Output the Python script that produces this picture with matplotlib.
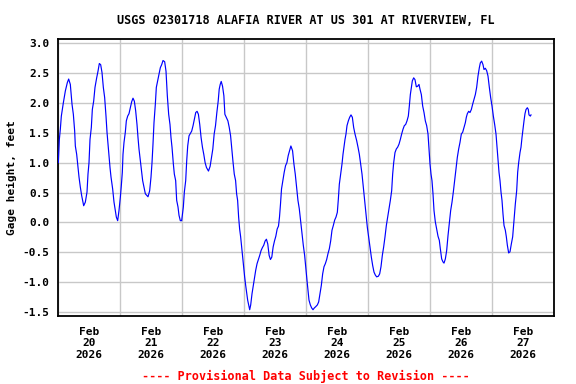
import pandas as pd
import matplotlib
matplotlib.use('Agg')
import matplotlib.pyplot as plt
import matplotlib.dates as mdates

# hours since 2026-02-20 00:00 and gage height (feet)
hours = [0.0, 0.13, 0.52, 0.90, 1.29, 2.06, 2.84, 3.61, 4.13, 4.77, 5.42, 5.94, 6.45, 6.71, 7.23, 7.61,
         8.13, 8.65, 9.16, 9.94, 10.58, 11.23, 11.61, 12.0, 12.39, 12.90, 13.29, 13.81, 14.32, 14.97,
         15.48, 16.0, 16.52, 17.03, 17.55, 18.06, 18.58, 18.97, 19.35, 19.74, 20.13, 20.52, 21.16,
         21.68, 22.19, 22.58, 23.10, 23.61, 24.13, 24.52, 24.90, 25.16, 25.55, 26.06, 26.45, 26.97,
         27.48, 28.0, 28.52, 29.03, 29.55, 30.06, 30.58, 30.97, 31.35, 31.87, 32.26, 32.77, 33.29,
         33.81, 34.84, 35.48, 36.0, 36.39, 36.77, 37.16, 37.68, 38.06, 38.58, 39.10, 39.61, 40.13,
         40.65, 41.29, 41.81, 42.32, 42.84, 43.35, 43.74, 44.13, 44.65, 45.03, 45.55, 45.94, 46.45,
         46.84, 47.35, 47.87,
         48.52, 48.91, 49.43, 49.82, 50.21, 50.72, 51.24, 51.76, 52.28, 52.80, 53.32, 53.84, 54.35,
         54.87, 55.39, 55.91, 56.43, 56.95, 57.47, 58.25, 58.89, 59.41, 59.93, 60.45, 60.97, 61.49,
         62.01, 62.40, 62.79, 63.18, 63.69, 64.21, 64.60, 65.12, 65.77, 66.29, 66.81, 67.33, 67.71,
         68.23, 68.75, 69.14, 69.53, 69.92, 70.31, 70.70, 71.09, 71.48, 71.86, 72.25, 72.64, 73.03,
         73.42, 73.81, 74.20, 74.59, 75.11, 75.63, 76.01, 76.53, 77.05, 77.57, 78.09, 78.61, 79.13,
         79.65, 80.17, 80.68, 81.20, 81.72, 82.24, 82.76, 83.28, 83.80, 84.32, 84.84, 85.35, 85.74,
         86.13, 86.52, 87.04, 87.56, 88.08, 88.60, 89.12, 89.63, 90.15, 90.80, 91.32, 91.84, 92.36,
         92.88, 93.40, 93.91, 94.43, 94.95, 95.47,
         96.0, 96.39, 96.77, 97.16, 97.68, 98.19, 98.71, 99.23, 99.74, 100.39, 100.90, 101.42, 101.94,
         102.45, 102.97, 103.48, 104.0, 104.52, 105.03, 105.55, 106.06, 106.58, 107.10, 107.61, 108.13,
         108.52, 108.90, 109.42, 109.94, 110.32, 110.71, 111.10, 111.48, 111.87, 112.39, 112.90, 113.42,
         113.94, 114.45, 114.97, 115.61, 116.13, 116.65, 117.16, 117.68, 118.19, 118.71, 119.23, 119.74,
         120.26, 120.77, 121.29, 121.81, 122.32, 122.84, 123.35, 124.0, 124.52, 125.03, 125.55, 126.06,
         126.58, 127.10, 127.61, 128.13, 128.65, 129.16, 129.55, 129.94, 130.45, 130.97, 131.48, 132.0,
         132.52, 133.03, 133.55, 134.06, 134.58, 135.10, 135.61, 136.0, 136.39, 136.77, 137.16, 137.68,
         138.19, 138.71, 139.23, 139.74, 140.13, 140.65, 141.16, 141.68, 142.19, 142.71, 143.23,
         144.0, 144.39, 144.77, 145.16, 145.55, 146.06, 146.58, 147.10, 147.61, 148.0, 148.52, 149.03,
         149.42, 149.94, 150.45, 150.97, 151.48, 152.0, 152.52, 153.03, 153.55, 154.06, 154.58, 155.10,
         155.61, 156.13, 156.65, 157.16, 157.68, 158.06, 158.45, 158.97, 159.48, 160.0, 160.52, 161.03,
         161.55, 162.06, 162.58, 163.10, 163.48, 164.0, 164.52, 164.90, 165.42, 165.94, 166.45, 166.97,
         167.48, 168.0, 168.52, 169.03, 169.55, 169.94, 170.32, 170.71, 171.10, 171.48, 171.87, 172.26,
         172.65, 173.16, 173.55, 173.94, 174.45, 174.97, 175.48, 176.0, 176.52, 177.03, 177.55, 177.94,
         178.32, 178.84, 179.23, 179.61, 180.0, 180.39, 180.77, 181.16, 181.68, 182.06, 182.32, 182.84,
         183.10]
gage = [1.00, 1.00, 1.39, 1.56, 1.78, 2.00, 2.20, 2.34, 2.40, 2.31, 1.98, 1.81, 1.53, 1.28, 1.14, 0.98,
        0.76, 0.59, 0.45, 0.28, 0.34, 0.51, 0.81, 1.00, 1.39, 1.59, 1.89, 2.03, 2.26, 2.42,
        2.53, 2.66, 2.64, 2.51, 2.26, 2.09, 1.78, 1.51, 1.31, 1.12, 0.92, 0.76, 0.56,
        0.34, 0.20, 0.09, 0.03, 0.20, 0.42, 0.62, 0.84, 1.14, 1.34, 1.51, 1.70, 1.78,
        1.82, 1.92, 2.02, 2.08, 2.03, 1.87, 1.64, 1.42, 1.23, 1.03, 0.87, 0.70, 0.59,
        0.48, 0.43, 0.53, 0.76, 1.00, 1.31, 1.67, 1.98, 2.26, 2.37, 2.48, 2.59, 2.64,
        2.71, 2.69, 2.53, 2.12, 1.81, 1.64, 1.42, 1.26, 0.98, 0.81, 0.70, 0.37, 0.26,
        0.12, 0.03, 0.03,
        0.26, 0.51, 0.70, 1.03, 1.28, 1.45, 1.49, 1.53, 1.62, 1.73, 1.84, 1.86, 1.81,
        1.64, 1.42, 1.26, 1.14, 1.00, 0.92, 0.86, 0.94, 1.09, 1.23, 1.48, 1.62, 1.84,
        2.03, 2.23, 2.31, 2.36, 2.28, 2.12, 1.81, 1.76, 1.70, 1.59, 1.45, 1.20, 1.03,
        0.81, 0.70, 0.48, 0.37, 0.09, -0.11, -0.24, -0.41, -0.58, -0.74, -0.91, -1.05, -1.17,
        -1.30, -1.38, -1.46, -1.38, -1.19, -1.05, -0.94, -0.80, -0.69, -0.62, -0.55, -0.47, -0.42,
        -0.38, -0.31, -0.28, -0.36, -0.55, -0.62, -0.58, -0.41, -0.31, -0.23, -0.11, -0.06, 0.09,
        0.31, 0.56, 0.70, 0.84, 0.95, 1.00, 1.12, 1.20, 1.28, 1.20, 0.98, 0.81, 0.59,
        0.37, 0.23, 0.03, -0.19, -0.38, -0.55,
        -0.80, -0.97, -1.13, -1.30, -1.38, -1.43, -1.46, -1.43, -1.41, -1.38, -1.33, -1.19, -1.05,
        -0.86, -0.74, -0.69, -0.62, -0.52, -0.44, -0.31, -0.13, -0.05, 0.04, 0.09, 0.17,
        0.39, 0.64, 0.81, 0.98, 1.14, 1.26, 1.39, 1.48, 1.62, 1.70, 1.76, 1.80,
        1.76, 1.59, 1.48, 1.37, 1.26, 1.14, 0.98, 0.81, 0.59, 0.37, 0.14, -0.08,
        -0.24, -0.41, -0.58, -0.72, -0.83, -0.88, -0.91, -0.90, -0.86, -0.74, -0.55, -0.41,
        -0.24, -0.05, 0.09, 0.23, 0.37, 0.53, 0.81, 1.00, 1.17, 1.23, 1.26, 1.31,
        1.39, 1.48, 1.56, 1.62, 1.64, 1.70, 1.78, 1.95, 2.14, 2.26, 2.37, 2.42,
        2.39, 2.27, 2.28, 2.31, 2.23, 2.14, 1.95, 1.84, 1.70, 1.62, 1.48,
        0.98, 0.81, 0.70, 0.48, 0.20, 0.01, -0.11, -0.23, -0.30, -0.44, -0.61, -0.66,
        -0.68, -0.61, -0.47, -0.22, -0.02, 0.20, 0.34, 0.51, 0.70, 0.90, 1.09, 1.23,
        1.34, 1.48, 1.51, 1.59, 1.67, 1.76, 1.82, 1.86, 1.84, 1.89, 1.98, 2.06,
        2.14, 2.26, 2.45, 2.59, 2.67, 2.70, 2.64, 2.56, 2.58, 2.54, 2.45, 2.26,
        2.09, 1.95, 1.78, 1.64, 1.48, 1.26, 1.03, 0.84, 0.70, 0.51, 0.37, 0.14,
        -0.05, -0.13, -0.24, -0.38, -0.51, -0.49, -0.36, -0.24, 0.03, 0.31, 0.53, 0.84,
        1.00, 1.17, 1.26, 1.42, 1.56, 1.70, 1.82, 1.89, 1.92, 1.89, 1.80, 1.78,
        1.80]

start = pd.Timestamp('2026-02-20')
end = pd.Timestamp('2026-02-28')
times = start + pd.to_timedelta(hours, unit='h')

title = 'USGS 02301718 ALAFIA RIVER AT US 301 AT RIVERVIEW, FL'
ylabel = 'Gage height, feet'
footer = '---- Provisional Data Subject to Revision ----'
yticks = [-1.5, -1.0, -0.5, 0.0, 0.5, 1.0, 1.5, 2.0, 2.5, 3.0]

plt.rcParams['font.family'] = ['DejaVu Sans Mono']
plt.rcParams['font.weight'] = 'bold'

fig = plt.figure(figsize=(5.76, 3.84), dpi=100)
ax = fig.add_axes([58 / 576, 1 - 316 / 384, 496 / 576, 277 / 384])

ax.plot(times, gage, color='#0000ff', linewidth=0.85, zorder=3)

ax.set_xlim(start, end)
ax.set_ylim(-1.565, 3.07)
ax.set_yticks(yticks)
ax.set_yticklabels(['%.1f' % v for v in yticks])

ax.xaxis.set_major_locator(mdates.DayLocator())
ax.xaxis.set_major_formatter(plt.NullFormatter())
ax.xaxis.set_minor_locator(mdates.HourLocator(byhour=12))
ax.xaxis.set_minor_formatter(mdates.DateFormatter('%b\n%d\n%Y'))

ax.grid(True, which='major', color='#c8c8c8', linewidth=1.0)
ax.set_axisbelow(True)
ax.tick_params(axis='both', which='both', length=0, labelsize=8)
ax.tick_params(axis='y', pad=6)
ax.tick_params(axis='x', which='minor', pad=8)
for lab in ax.get_xticklabels(minor=True):
    lab.set_fontweight('bold')
    lab.set_linespacing(1.15)
for lab in ax.get_yticklabels():
    lab.set_fontweight('bold')

for s in ax.spines.values():
    s.set_linewidth(1.3)
    s.set_color('black')

ax.set_ylabel(ylabel, fontsize=8, fontweight='bold', labelpad=4)
fig.text(306 / 576, 1 - 20 / 384, title, ha='center', va='center', fontsize=8.5, fontweight='bold')
fig.text(306 / 576, 1 - 376 / 384, footer, ha='center', va='center', fontsize=8.5,
         fontweight='bold', color='#ff0000')

fig.savefig('out.png', dpi=100)
